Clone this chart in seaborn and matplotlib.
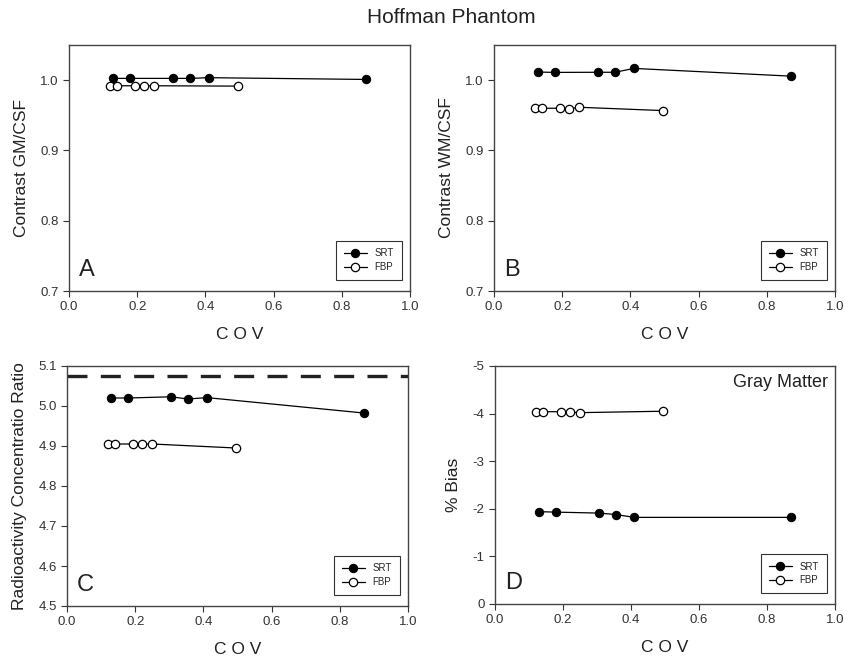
import matplotlib
matplotlib.use("Agg")
import matplotlib.pyplot as plt
import seaborn as sns
import pandas as pd
import numpy as np

sns.set_theme(style="ticks")
plt.rcParams['font.family'] = ['Liberation Sans', 'DejaVu Sans']

# ---- data ----
cov_srt = [0.13, 0.18, 0.305, 0.355, 0.41, 0.87]
cov_fbp = [0.12, 0.14, 0.195, 0.22, 0.25, 0.495]

gm_srt = [1.0025, 1.0025, 1.0025, 1.0025, 1.0035, 1.001]
gm_fbp = [0.992, 0.992, 0.992, 0.992, 0.992, 0.9915]

wm_srt = [1.0115, 1.011, 1.0112, 1.0112, 1.0167, 1.0057]
wm_fbp = [0.960, 0.960, 0.960, 0.959, 0.9614, 0.9567]

rcr_srt = [5.020, 5.020, 5.023, 5.0175, 5.021, 4.9825]
rcr_fbp = [4.905, 4.905, 4.905, 4.905, 4.905, 4.895]
rcr_true = 5.075

bias_srt = [-1.94, -1.93, -1.91, -1.88, -1.82, -1.82]
bias_fbp = [-4.04, -4.04, -4.04, -4.03, -4.02, -4.05]

methods = ["SRT", "FBP"]
panel_letters = ["A", "B", "C", "D"]
ylabels = ["Contrast GM/CSF", "Contrast WM/CSF",
           "Radioactivity Concentratio Ratio", "% Bias"]
xticks = [0.0, 0.2, 0.4, 0.6, 0.8, 1.0]

fig = plt.figure(figsize=(8.44, 6.6), dpi=100)
W, H = 844, 660
def ax_at(l, r, t, b):
    return fig.add_axes([l / W, 1 - b / H, (r - l) / W, (b - t) / H])

axes = [ax_at(69, 410, 45, 291), ax_at(494, 835, 45, 291),
        ax_at(67, 408, 366, 606), ax_at(495, 835, 366, 604)]

series = [(gm_srt, gm_fbp), (wm_srt, wm_fbp), (rcr_srt, rcr_fbp), (bias_srt, bias_fbp)]
ylims = [(0.7, 1.05), (0.7, 1.05), (4.5, 5.1), (0, -5)]
yticks = [[0.7, 0.8, 0.9, 1.0], [0.7, 0.8, 0.9, 1.0],
          [4.5, 4.6, 4.7, 4.8, 4.9, 5.0, 5.1], [0, -1, -2, -3, -4, -5]]
yfmt = ["{:.1f}", "{:.1f}", "{:.1f}", "{:.0f}"]

for i, ax in enumerate(axes):
    s, f = series[i]
    df = pd.DataFrame({"COV": cov_srt + cov_fbp, "val": s + f,
                       "Method": [methods[0]] * len(s) + [methods[1]] * len(f)})
    sns.lineplot(data=df[df.Method == "SRT"], x="COV", y="val", ax=ax,
                 color="black", lw=0.9, marker="o", markersize=6,
                 markerfacecolor="black", markeredgecolor="black",
                 label="SRT", sort=False)
    sns.lineplot(data=df[df.Method == "FBP"], x="COV", y="val", ax=ax,
                 color="black", lw=0.9, marker="o", markersize=6,
                 markerfacecolor="white", markeredgecolor="black",
                 markeredgewidth=0.9, label="FBP", sort=False)
    ax.set_xlim(0, 1.0)
    ax.set_ylim(*ylims[i])
    ax.set_xticks(xticks)
    ax.set_xticklabels([f"{v:.1f}" for v in xticks])
    ax.set_yticks(yticks[i])
    ax.set_yticklabels([yfmt[i].format(v) for v in yticks[i]])
    ax.tick_params(axis="both", labelsize=9.5, colors="#333333", length=4,
                   width=0.8, direction="out")
    ax.tick_params(axis="both", labelcolor="#333333")
    for sp in ax.spines.values():
        sp.set_visible(True)
        sp.set_color("#444444")
        sp.set_linewidth(1.0)
    ax.set_xlabel("C O V", fontsize=12.5, color="#222222", labelpad=10)
    ax.set_ylabel(ylabels[i], fontsize=12.5, color="#222222", labelpad=8)
    ax.text(0.03, 0.04, panel_letters[i], transform=ax.transAxes,
            fontsize=17, color="#222222", ha="left", va="bottom")
    leg = ax.legend(loc="lower right", fontsize=7, frameon=True, fancybox=False,
                    edgecolor="black", handlelength=2.4, borderpad=0.8,
                    labelspacing=0.4, bbox_to_anchor=(0.99, 0.025))
    leg.get_frame().set_linewidth(0.8)
    ax.grid(False)

axes[2].axhline(rcr_true, color="#222222", lw=2.4, ls=(0, (6, 4)))
axes[3].text(0.98, 0.93, "Gray Matter", transform=axes[3].transAxes,
             fontsize=13, ha="right", va="center", color="#222222")

fig.text(0.535, 0.973, "Hoffman Phantom", ha="center", va="center",
         fontsize=15, color="#222222")

fig.savefig("out.png", dpi=100)
